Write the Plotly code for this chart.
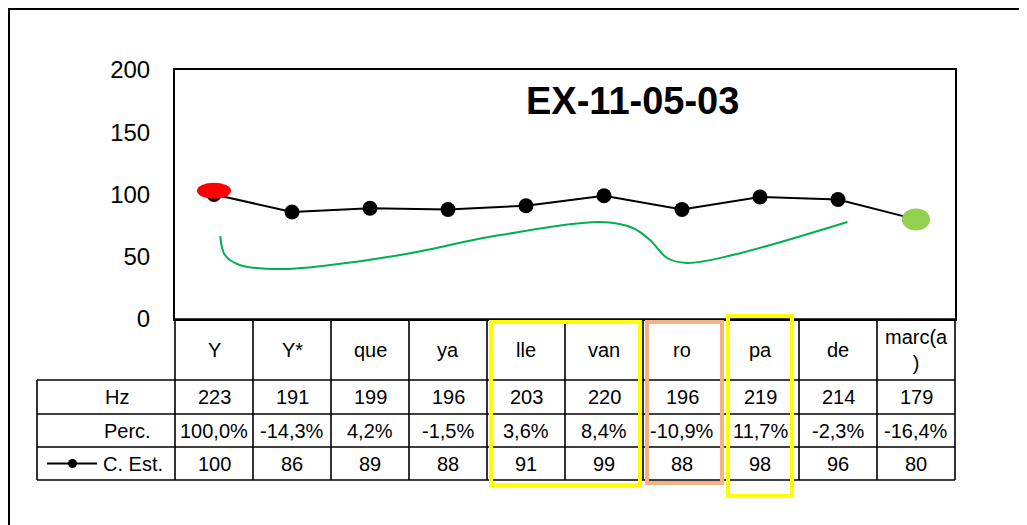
import plotly.graph_objects as go

# ---------------- data ----------------
categories = ["Y", "Y*", "que", "ya", "lle", "van", "ro", "pa", "de", "marc(a)"]
header_labels = ["Y", "Y*", "que", "ya", "lle", "van", "ro", "pa", "de", "marc(a<br>)"]
hz_values = [223, 191, 199, 196, 203, 220, 196, 219, 214, 179]
perc_labels = ["100,0%", "-14,3%", "4,2%", "-1,5%", "3,6%", "8,4%", "-10,9%", "11,7%", "-2,3%", "-16,4%"]
c_est = [100, 86, 89, 88, 91, 99, 88, 98, 96, 80]
row_names = ["Hz", "Perc.", "C. Est."]
title_text = "EX-11-05-03"
y_ticks = [0, 50, 100, 150, 200]

# hand-drawn green curve (data coords: category index, value)
curve_x = [0.08, 0.14, 0.33, 0.85, 1.49, 2.39, 3.67, 4.95, 5.37, 5.59, 5.81, 6.06, 6.65, 8.12]
curve_y = [66.6, 51.4, 43.4, 40.1, 43.4, 51.4, 67.4, 77.9, 73.1, 63.4, 49.0, 45.0, 51.4, 77.9]

# ---------------- layout geometry ----------------
OFF = 8  # page body margin
W, H = 1027 - OFF, 525 - OFF
PL, PR, PT, PB = 175, 955, 70, 319  # plot area in reference pixels
FONT = "Arial, Liberation Sans, sans-serif"
n = len(categories)


def fx(px):
    return (px - PL) / (PR - PL)


def fy(py):
    return (PB - py) / (PB - PT)


xs = list(range(n))
fig = go.Figure()

fig.add_trace(go.Scatter(
    x=curve_x, y=curve_y, mode="lines", line=dict(color="#00B050", width=2, shape="spline", smoothing=1.0),
    hoverinfo="skip", showlegend=False))

fig.add_trace(go.Scatter(
    x=xs, y=c_est, mode="lines+markers", name="C. Est.",
    line=dict(color="black", width=2), marker=dict(color="black", size=15),
    showlegend=False))

shapes = []
annotations = []

# outer chart border
shapes.append(dict(type="rect", xref="paper", yref="paper", x0=fx(9), y0=fy(9), x1=fx(1040), y1=fy(540),
                   line=dict(color="black", width=2), layer="below"))

# red and green ellipses over first/last points
shapes.append(dict(type="circle", xref="x", yref="y", x0=0 - 17 / 78, x1=0 + 17 / 78,
                   y0=c_est[0] + 3 - 8 / 1.245, y1=c_est[0] + 3 + 8 / 1.245,
                   fillcolor="#FF0000", line=dict(width=0)))
shapes.append(dict(type="circle", xref="x", yref="y", x0=n - 1 - 14 / 78, x1=n - 1 + 14 / 78,
                   y0=c_est[-1] - 11 / 1.245, y1=c_est[-1] + 11 / 1.245,
                   fillcolor="#92D050", line=dict(width=0)))

# table geometry
row_edges = [319, 380, 414, 447, 480]
label_left = 37
lw = 1.6
for i in range(n + 1):
    shapes.append(dict(type="line", xref="paper", yref="paper", x0=i / n, x1=i / n,
                       y0=fy(row_edges[0]), y1=fy(row_edges[-1]), line=dict(color="black", width=lw)))
shapes.append(dict(type="line", xref="paper", yref="paper", x0=fx(label_left), x1=fx(label_left),
                   y0=fy(row_edges[1]), y1=fy(row_edges[-1]), line=dict(color="black", width=lw)))
for k, e in enumerate(row_edges):
    x0 = 0 if k == 0 else fx(label_left)
    shapes.append(dict(type="line", xref="paper", yref="paper", x0=x0, x1=1,
                       y0=fy(e), y1=fy(e), line=dict(color="black", width=lw)))

tf = dict(family=FONT, size=20, color="black")
hdr_c = (row_edges[0] + row_edges[1]) / 2
for i in range(n):
    cx = (i + 0.5) / n
    annotations.append(dict(xref="paper", yref="paper", x=cx, y=fy(hdr_c), text=header_labels[i],
                            showarrow=False, font=tf, xanchor="center", yanchor="middle"))
    rows = [str(hz_values[i]), perc_labels[i], str(c_est[i])]
    for r in range(3):
        cy = (row_edges[r + 1] + row_edges[r + 2]) / 2
        annotations.append(dict(xref="paper", yref="paper", x=cx, y=fy(cy), text=rows[r],
                                showarrow=False, font=tf, xanchor="center", yanchor="middle"))

label_centers = [117, 127, 133]
for r, name in enumerate(row_names):
    cy = (row_edges[r + 1] + row_edges[r + 2]) / 2
    annotations.append(dict(xref="paper", yref="paper", x=fx(label_centers[r]), y=fy(cy), text=name,
                            showarrow=False, font=tf, xanchor="center", yanchor="middle"))

# legend key in the C. Est. row
key_y = fy((row_edges[3] + row_edges[4]) / 2)
shapes.append(dict(type="line", xref="paper", yref="paper", x0=fx(47), x1=fx(97), y0=key_y, y1=key_y,
                   line=dict(color="black", width=2)))
shapes.append(dict(type="circle", xref="paper", yref="paper", x0=fx(68), x1=fx(77),
                   y0=key_y - 4.5 / (PB - PT), y1=key_y + 4.5 / (PB - PT),
                   fillcolor="black", line=dict(width=0)))

# highlight boxes
def box(px0, py0, px1, py1, color):
    shapes.append(dict(type="rect", xref="paper", yref="paper", x0=fx(px0), x1=fx(px1),
                       y0=fy(py0), y1=fy(py1), line=dict(color=color, width=4)))

box(491, 322, 640, 485, "#FFFF00")
box(647, 322, 722, 483, "#F4B183")
box(728, 316, 792, 496, "#FFFF00")

annotations.append(dict(xref="paper", yref="paper", x=fx(632), y=fy(101), text="<b>" + title_text + "</b>",
                        showarrow=False, font=dict(family=FONT, size=38, color="black"),
                        xanchor="center", yanchor="middle"))

fig.update_layout(
    width=W, height=H,
    margin=dict(l=PL - OFF, r=(W + OFF) - PR, t=PT - OFF, b=(H + OFF) - PB, pad=0),
    paper_bgcolor="white", plot_bgcolor="white",
    shapes=shapes, annotations=annotations,
    showlegend=False,
    xaxis=dict(range=[-0.5, n - 0.5], showgrid=False, zeroline=False, showticklabels=False,
               showline=True, mirror=True, linecolor="black", linewidth=2, ticks=""),
    yaxis=dict(range=[0, 200], tickvals=y_ticks, showgrid=False, zeroline=False,
               showline=True, mirror=True, linecolor="black", linewidth=2, ticks="",
               tickfont=dict(family=FONT, size=24, color="black"), ticklabelstandoff=18),
)

fig.write_html("out.html")
